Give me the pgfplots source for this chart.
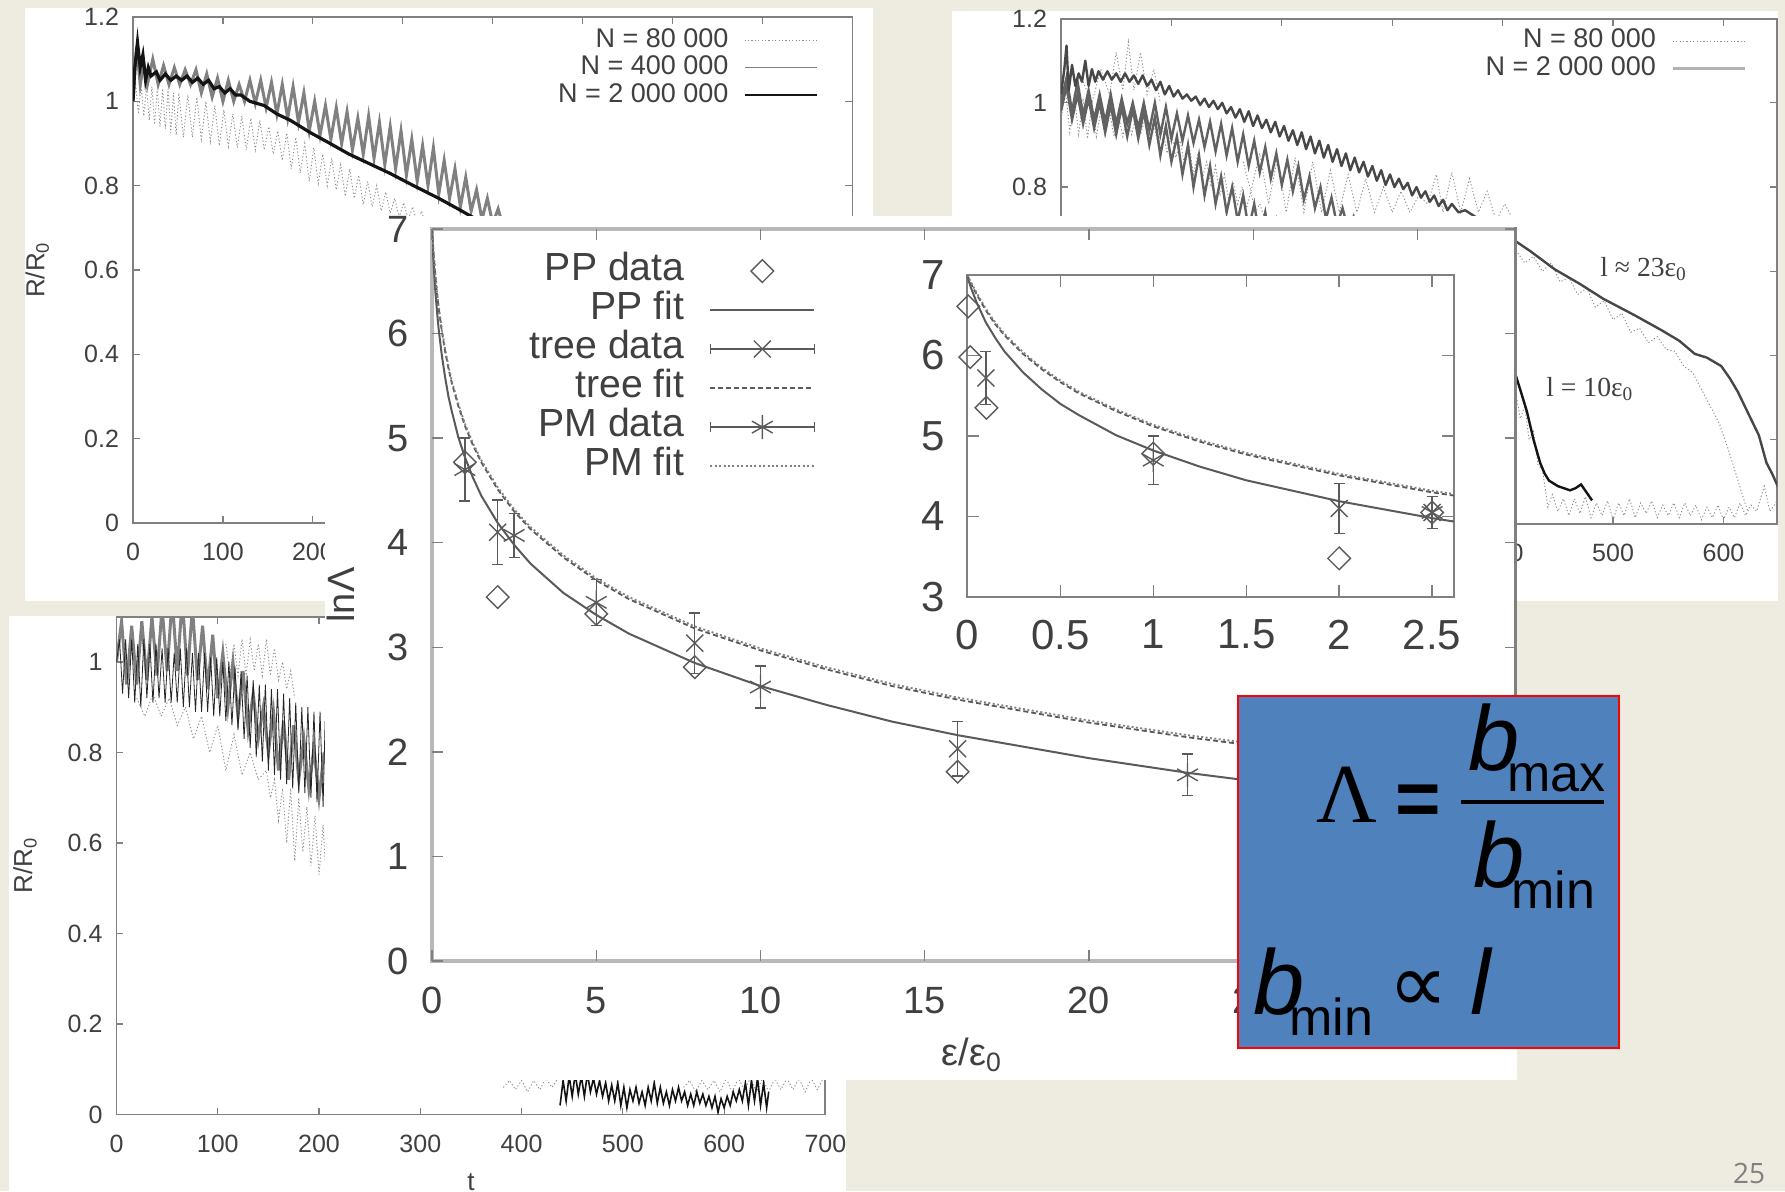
\documentclass[border=0pt]{standalone}
\usepackage{pgfplots}
\usepackage{pgfplotstable}
\usepackage{fontspec}
\setmainfont{Liberation Sans}
\newfontfamily\serifl{Liberation Serif}
\newfontfamily\dejav{DejaVu Sans}
\newfontfamily\pagef{Open Sans}
\pgfplotsset{compat=1.18}
\definecolor{bgc}{HTML}{EEECE1}
\definecolor{boxblue}{HTML}{4F81BD}
\definecolor{axg}{HTML}{808080}
\definecolor{txg}{HTML}{404040}
\definecolor{dotg}{HTML}{8C8C8C}
\definecolor{midg}{HTML}{808080}
\definecolor{fitg}{HTML}{5A5A5A}

\pgfplotstableread{
x pp tree pm
0 6.98 7.00 7.00
0.02 6.84 6.89 6.91
0.05 6.66 6.76 6.78
0.1 6.41 6.56 6.58
0.15 6.22 6.39 6.41
0.2 6.05 6.25 6.27
0.3 5.79 6.02 6.04
0.4 5.58 5.83 5.85
0.5 5.40 5.67 5.69
0.6 5.26 5.53 5.55
0.8 5.01 5.31 5.33
1 4.82 5.12 5.14
1.25 4.62 4.93 4.95
1.5 4.45 4.77 4.79
2 4.19 4.51 4.53
2.5 3.98 4.30 4.32
3 3.80 4.13 4.15
4 3.52 3.86 3.88
5 3.31 3.64 3.66
6 3.13 3.46 3.48
8 2.85 3.18 3.20
10 2.63 2.97 2.99
12 2.45 2.79 2.81
14 2.29 2.63 2.65
16 2.16 2.50 2.52
18 2.05 2.39 2.41
20 1.94 2.28 2.30
23 1.80 2.14 2.16
26 1.68 2.02 2.04
30 1.54 1.88 1.90
33 1.44 1.78 1.80
}\fitdata

\pgfplotsset{
  panel/.style={
    scale only axis, tick align=inside, major tick length=3.5pt,
    axis line style={axg,line width=0.9pt}, tick style={axg,line width=0.6pt},
    tick label style={txg,font=\fontsize{12.5}{14}\selectfont,/pgf/number format/assume math mode=true},
    xticklabel style={yshift=-6.5pt}, yticklabel style={xshift=-3.5pt},
    label style={txg,font=\fontsize{13}{15}\selectfont},
    xmin=0, ymin=0,
  },
  big/.style={
    scale only axis, tick align=inside, major tick length=5.5pt,
    axis line style={draw=none}, tick style={axg,line width=0.7pt},
    tick label style={txg,font=\fontsize{19}{21}\selectfont,/pgf/number format/assume math mode=true},
    label style={txg,font=\fontsize{19}{21}\selectfont},
  },
  lineimg/.style={legend image code/.code={\draw[##1] (0pt,0pt)--(#1,0pt);}},
  markimg/.style={legend image code/.code={\draw[##1] plot coordinates {(26pt,0pt)};}},
  errimg/.style={legend image code/.code={
     \draw[fitg,line width=0.8pt] (0pt,0pt)--(52pt,0pt) (0pt,-2.5pt)--(0pt,2.5pt) (52pt,-2.5pt)--(52pt,2.5pt);
     \draw[##1] plot coordinates {(26pt,0pt)};}},
  smalleg/.style={legend plot pos=right, legend cell align=right,
     legend style={draw=none,fill=none,font=\fontsize{13.5}{15}\selectfont,text=txg,inner sep=0pt,
       row sep=1.4pt,nodes={inner sep=0pt,text height=9.5pt,text depth=2.85pt},
       /tikz/every odd column/.style={column sep=7.5pt}}},
  dots/.style={dotg,line width=0.45pt,dash pattern=on 0.6pt off 1.1pt},
  err/.style={error bars/y dir=both,error bars/y explicit,
     error bars/error bar style={fitg,line width=0.7pt},
     error bars/error mark options={rotate=90,mark size=2.75pt,fitg,line width=0.7pt}},
}

\begin{document}
\begin{tikzpicture}
\useasboundingbox (0,0) rectangle (892.5pt,-595.5pt);
\clip (0,0) rectangle (892.5pt,-595.5pt);
\begin{scope}[x=0.5pt,y=-0.5pt]
\fill[bgc] (0,0) rectangle (1785,1191);
\fill[white] (25,8) rectangle (873,601);
\end{scope}

% ---------- top left ----------
\begin{axis}[panel, at={(133*0.5pt,-523*0.5pt)}, anchor=south west,
  width=359.75pt, height=253pt, xmax=800, ymax=1.2,
  xtick={0,100,...,800}, ytick={0,0.2,0.4,0.6,0.8,1,1.2},
  xticklabels={0,100,200,300,400,500,600,700,800},
  yticklabels={0,0.2,0.4,0.6,0.8,1,1.2},
  ylabel={R/R\textsubscript{0}},
  ylabel style={at={(axis description cs:-0.133,0.5)},anchor=center},
  smalleg, legend style={at={(0.952,0.979)},anchor=north east}]
\addplot[dots,lineimg=36pt] coordinates {(0,1.00)(3,1.04)(6,.97)(9,1.04)(12,.965)(15,1.035)(18,.955)(21,1.035)(24,.945)(27,1.03)(30,.94)(33,1.03)(36,.935)(39,1.03)(42,.925)(45,1.02)(48,.92)(51,1.02)(56,.915)(61,1.015)(66,.915)(71,1.01)(76,.91)(81,1.0)(86,.905)(91,.99)(96,.895)(101,.98)(106,.893)(111,.97)(116,.89)(121,.965)(126,.885)(131,.96)(136,.885)(141,.955)(146,.885)(151,.94)(156,.875)(161,.93)(166,.86)(171,.925)(176,.84)(181,.915)(186,.83)(191,.90)(196,.81)(201,.89)(206,.805)(211,.875)(216,.80)(221,.865)(226,.79)(231,.85)(236,.775)(241,.84)(246,.77)(251,.825)(256,.755)(261,.81)(266,.75)(271,.80)(276,.74)(281,.785)(286,.735)(291,.77)(296,.725)(301,.76)(306,.72)(311,.75)(316,.71)(321,.74)(326,.70)};
\addlegendentry{N = 80 000}
\addplot[midg,line width=1.5pt,lineimg=36pt,legend image post style={line width=0.6pt}] coordinates {(0,1.0)(4,1.13)(8,1.04)(12,1.09)(16,1.04)(22,1.10)(28,1.04)(34,1.085)(40,1.04)(46,1.08)(52,1.04)(58,1.075)(64,1.04)(70,1.075)(76,1.02)(82,1.065)(88,1.01)(94,1.055)(100,1.0)(106,1.05)(112,1.0)(118,1.04)(124,1.0)(130,1.05)(136,.995)(142,1.05)(148,.985)(154,1.045)(160,.97)(166,1.04)(172,.96)(178,1.035)(184,.95)(190,1.02)(196,.93)(202,1.0)(208,.92)(214,.99)(220,.91)(226,.985)(232,.9)(238,.975)(244,.885)(250,.96)(256,.875)(262,.965)(268,.865)(274,.95)(280,.85)(286,.94)(292,.84)(298,.93)(304,.825)(310,.91)(316,.81)(322,.895)(328,.80)(334,.89)(340,.78)(346,.86)(352,.77)(358,.84)(364,.75)(370,.82)(376,.74)(382,.79)(388,.72)(394,.77)(400,.71)(406,.745)(412,.70)};
\addlegendentry{N = 400 000}
\addplot[black!92,line width=1.6pt,lineimg=36pt,legend image post style={line width=1pt}] coordinates {(0,1.0)(2,1.08)(5,1.14)(8,1.08)(11,1.11)(14,1.05)(17,1.08)(20,1.06)(26,1.07)(30,1.05)(36,1.065)(42,1.05)(48,1.06)(54,1.05)(60,1.06)(66,1.045)(72,1.055)(78,1.04)(84,1.05)(90,1.03)(96,1.035)(102,1.02)(108,1.03)(114,1.015)(120,1.015)(130,1.0)(146,.99)(160,.97)(175,.955)(197,.926)(215,.905)(240,.875)(260,.855)(285,.83)(312,.80)(340,.77)(363,.743)(382,.72)(395,.70)};
\addlegendentry{N = 2 000 000}
\end{axis}

\begin{scope}[x=0.5pt,y=-0.5pt]
\fill[white] (952,11) rectangle (1778,601);
\end{scope}

% ---------- top right ----------
\begin{axis}[panel, at={(1061*0.5pt,-524*0.5pt)}, anchor=south west,
  width=358pt, height=252.7pt, xmax=648.5, ymax=1.2,
  xtick={0,100,...,600}, ytick={0,0.2,0.4,0.6,0.8,1,1.2},
  xticklabels={0,100,200,300,400,500,600},
  yticklabels={0,0.2,0.4,0.6,0.8,1,1.2},
  smalleg, legend style={at={(0.958,0.981)},anchor=north east}]
\addplot[dots,lineimg=36pt] coordinates {(0,.96)(4,1.03)(8,.93)(12,1.02)(16,.925)(20,1.01)(24,.915)(28,1.0)(32,.92)(36,.98)(40,.92)(44,.98)(48,.92)(52,.97)(56,.92)(60,.97)(64,.925)(68,.97)(72,.925)(76,.96)(80,.91)(84,.95)(88,.90)(92,.94)(96,.88)(100,.93)(104,.87)(108,.91)(112,.85)(116,.90)(120,.83)(124,.88)(128,.82)(132,.86)(136,.80)(140,.85)(144,.78)(148,.83)(152,.77)(156,.81)(160,.76)(164,.80)(168,.75)(172,.79)(176,.74)(180,.76)(184,.73)};
\addlegendentry{N = 80 000}
\addplot[dots,forget plot] coordinates {(20,1.05)(28,1.0)(36,1.08)(44,1.02)(50,1.12)(56,1.03)(61,1.145)(66,1.03)(72,1.12)(78,1.02)(84,1.08)(90,1.0)};
\addplot[dots,forget plot] coordinates {(165,.86)(172,.79)(180,.88)(188,.76)(196,.87)(204,.74)(212,.87)(220,.74)(228,.86)(236,.74)(244,.84)(252,.74)(260,.83)(268,.74)(276,.82)(284,.74)(292,.80)(300,.74)(308,.79)(316,.74)(324,.78)(332,.76)(340,.83)(346,.74)(354,.835)(362,.74)(370,.82)(378,.74)(386,.79)(394,.72)(402,.76)(410,.72)};
\addplot[dots,forget plot] coordinates {(412,.65)(420,.62)(428,.635)(436,.60)(444,.62)(452,.575)(460,.585)(468,.545)(476,.56)(484,.515)(492,.53)(500,.485)(508,.50)(516,.455)(524,.465)(532,.43)(540,.445)(548,.415)(556,.41)(564,.375)(572,.36)(580,.32)(588,.28)(596,.24)(604,.18)(610,.13)(617,.07)(622,.03)};
\addplot[dots,forget plot] coordinates {(412,.31)(416,.25)(420,.28)(424,.2)(428,.22)(432,.14)(436,.13)(441,.04)(445,.07)(450,.03)(455,.06)(460,.02)(465,.06)(470,.025)(475,.065)(480,.015)(485,.05)(490,.02)(495,.055)(500,.01)(505,.05)(510,.02)(515,.06)(520,.015)(525,.05)(530,.025)(535,.055)(540,.015)(545,.045)(550,.02)(555,.05)(560,.015)(565,.05)(570,.02)(575,.045)(580,.01)(585,.04)(590,.015)(595,.045)(600,.01)(605,.04)(610,.015)(615,.05)(620,.02)(625,.045)(630,.03)(637,.09)(642,.03)(650,.06)};
\addplot[black!62,line width=1.2pt,forget plot] coordinates {(0,.98)(5,1.04)(10,.96)(15,1.02)(20,.95)(25,1.01)(30,.94)(35,1.0)(40,.93)(45,.995)(50,.925)(55,.99)(60,.92)(65,.985)(70,.915)(75,.98)(80,.90)(85,.965)(90,.875)(95,.945)(100,.86)(105,.92)(110,.83)(115,.90)(120,.80)(125,.875)(130,.78)(135,.85)(140,.76)(145,.825)(150,.74)(155,.80)(160,.72)(165,.78)(170,.70)(175,.76)(180,.68)(185,.74)(190,.66)(195,.72)(200,.65)};
\addplot[black!62,line width=1.2pt,forget plot] coordinates {(0,1.0)(5,1.06)(10,.98)(15,1.05)(20,.97)(25,1.03)(30,.96)(35,1.02)(40,.955)(45,1.02)(50,.95)(55,1.01)(60,.95)(65,1.0)(70,.94)(75,1.0)(80,.935)(85,1.0)(90,.925)(95,.99)(100,.915)(105,.975)(110,.91)(115,.97)(120,.905)(125,.96)(130,.895)(135,.955)(140,.885)(145,.95)(150,.875)(155,.94)(160,.86)(165,.925)(170,.85)(175,.91)(180,.835)(185,.895)(190,.82)(195,.88)(200,.805)(205,.865)(210,.79)(215,.85)(220,.77)(225,.825)(230,.75)(235,.80)(240,.725)(245,.775)(250,.71)(255,.75)(260,.70)(265,.73)(270,.68)};
\addplot[black!92,line width=1.2pt,forget plot] coordinates {(412,.352)(417,.31)(422,.267)(428,.20)(434,.145)(438,.12)(442,.103)(450,.09)(461,.08)(466,.085)(471,.094)(476,.075)(481,.056)};
\addplot[black!72,line width=1.2pt,line join=round,lineimg=36pt,legend image post style={black!30,line width=1.8pt}] coordinates {(0,1.02)(3,1.08)(5,1.136)(7,1.03)(10,1.09)(13,1.04)(16,1.07)(19,1.05)(22,1.10)(25,1.04)(28,1.08)(31,1.05)(34,1.075)(38,1.055)(42,1.075)(46,1.055)(50,1.07)(54,1.05)(58,1.07)(62,1.05)(66,1.065)(70,1.045)(74,1.065)(78,1.04)(82,1.055)(86,1.03)(90,1.05)(94,1.02)(98,1.04)(102,1.015)(106,1.03)(110,1.01)(114,1.02)(118,1.005)(122,1.015)(126,.995)(130,1.01)(134,.99)(138,1.005)(142,.985)(146,1.0)(150,.975)(154,.99)(158,.965)(162,.985)(166,.955)(170,.98)(174,.945)(178,.97)(182,.94)(186,.96)(190,.93)(194,.955)(198,.92)(202,.945)(206,.91)(210,.935)(214,.90)(218,.93)(222,.89)(226,.92)(230,.88)(234,.91)(238,.87)(242,.90)(246,.86)(250,.89)(254,.85)(258,.88)(262,.84)(266,.87)(270,.835)(274,.86)(278,.825)(282,.85)(286,.815)(290,.84)(294,.805)(298,.83)(302,.80)(306,.82)(310,.795)(314,.81)(318,.78)(322,.80)(326,.775)(330,.79)(334,.765)(338,.78)(342,.755)(346,.77)(350,.745)(354,.76)(360,.74)(366,.745)(378,.725)(412,.671)(425,.648)(447,.605)(470,.57)(491,.535)(520,.495)(544,.46)(560,.435)(574,.404)(585,.395)(598,.375)(606,.345)(613,.314)(622,.265)(632,.211)(639,.145)(644,.12)(650,.085)};
\addlegendentry{N = 2 000 000}
\end{axis}

\begin{scope}[x=0.5pt,y=-0.5pt]
\fill[white] (9,616) rectangle (846,1191);
\end{scope}

% ---------- bottom left ----------
\begin{axis}[panel, at={(116.5*0.5pt,-1114.5*0.5pt)}, anchor=south west,
  width=354.45pt, height=248.9pt, xmax=700, ymax=1.1,
  xtick={0,100,...,700}, ytick={0,0.2,0.4,0.6,0.8,1},
  xticklabels={0,100,200,300,400,500,600,700},
  yticklabels={0,0.2,0.4,0.6,0.8,1},
  xlabel={t}, ylabel={R/R\textsubscript{0}},
  xlabel style={at={(axis description cs:0.5,-0.136)},anchor=center},
  ylabel style={at={(axis description cs:-0.129,0.5)},anchor=center}]
\addplot[dots] coordinates {(20,.92)(28,.88)(36,.93)(44,.88)(52,.92)(60,.86)(68,.90)(76,.83)(84,.88)(92,.80)(100,.86)(108,.76)(116,.84)(124,.75)(132,.80)(140,.74)(148,.76)(152,.70)(156,.74)(160,.65)(164,.72)(168,.60)(172,.72)(176,.56)(180,.70)(184,.58)(188,.68)(192,.55)(196,.66)(200,.53)(204,.64)(206,.56)};
\addplot[dots] coordinates {(108,1.04)(112,.97)(116,1.04)(120,.97)(124,1.05)(128,.97)(132,1.05)(136,.98)(140,1.04)(144,.97)(148,1.05)(152,.97)(156,1.03)(160,.96)(164,1.0)(168,.94)(172,.98)(176,.92)};
\addplot[dots] coordinates {(382,.06)(388,.075)(394,.055)(400,.075)(406,.05)(412,.075)(418,.055)(424,.08)(430,.06)(436,.08)};
\addplot[dots] coordinates {(560,.06)(566,.075)(572,.05)(578,.075)(584,.055)(590,.075)(596,.05)(602,.08)(608,.05)(614,.08)(620,.055)(626,.08)(632,.05)(638,.08)(644,.05)(650,.08)(656,.055)(662,.08)(668,.055)(674,.08)(680,.05)(686,.08)(692,.055)(698,.08)};
\addplot[midg,line width=1.5pt] coordinates {(0,1.0)(5,1.09)(10,.95)(15,1.08)(20,.95)(25,1.09)(30,.96)(35,1.10)(40,.97)(45,1.12)(50,.98)(55,1.14)(60,.98)(65,1.14)(70,.97)(75,1.12)(80,.96)(85,1.08)(90,.94)(95,1.06)(100,.92)(105,1.02)(110,.90)(115,1.0)(120,.88)(125,.98)(130,.85)(135,.93)(140,.83)(145,.90)(150,.80)(155,.89)(160,.76)(165,.87)(170,.74)(175,.86)(180,.74)(185,.83)(190,.72)(195,.81)(200,.70)(205,.80)};
\addplot[black!85,line width=0.4pt] coordinates {(0,1.0)(3,1.05)(6,.93)(9,1.05)(12,.92)(15,1.05)(18,.91)(21,1.04)(24,.90)(27,1.05)(30,.92)(33,1.04)(36,.91)(39,1.04)(42,.92)(45,1.03)(48,.91)(51,1.03)(54,.91)(57,1.02)(60,.91)(63,1.03)(66,.90)(69,1.03)(72,.90)(75,1.02)(78,.89)(81,1.02)(84,.89)(87,1.02)(90,.89)(93,1.01)(96,.88)(99,1.01)(102,.88)(105,1.0)(108,.87)(111,1.0)(114,.86)(117,.99)(120,.85)(123,.98)(126,.83)(129,.97)(132,.81)(135,.96)(138,.79)(141,.95)(144,.78)(147,.95)(150,.76)(153,.94)(156,.75)(159,.94)(162,.74)(165,.93)(168,.73)(171,.92)(174,.72)(177,.91)(180,.71)(183,.90)(186,.71)(189,.90)(192,.70)(195,.89)(198,.69)(201,.89)(204,.68)(206,.87)};
\addplot[black!92,line width=0.8pt] coordinates {(438,.02)(441,.075)(444,.03)(447,.085)(450,.04)(453,.09)(456,.045)(459,.085)(462,.04)(465,.09)(468,.05)(471,.08)(474,.045)(477,.075)(480,.04)(483,.07)(486,.03)(489,.065)(492,.03)(495,.07)(498,.02)(501,.06)(504,.015)(507,.055)(510,.03)(513,.06)(516,.025)(519,.05)(522,.02)(525,.06)(528,.03)(531,.07)(534,.025)(537,.06)(540,.025)(543,.05)(546,.02)(549,.055)(552,.03)(555,.06)(558,.03)(561,.05)(564,.02)(567,.045)(570,.02)(573,.05)(576,.025)(579,.045)(582,.02)(585,.04)(588,.015)(591,.04)(594,.005)(597,.035)(600,.015)(603,.04)(606,.02)(609,.05)(612,.03)(615,.055)(618,.03)(621,.07)(624,.02)(627,.075)(630,.03)(633,.08)(636,.02)(639,.07)(642,.015)(644,.05)};
\end{axis}

\begin{scope}[x=0.5pt,y=-0.5pt]
\fill[white] (325,216) rectangle (1517,1080);
\draw[black!28,line width=2pt] (1515,229)--(432,229)--(432,961)--(1515,961);
\draw[axg,line width=1.2pt] (1515.5,227)--(1515.5,963);
\end{scope}

% ---------- main ----------
\begin{axis}[big, at={(432*0.5pt,-961*0.5pt)}, anchor=south west,
  width=542pt, height=366pt, xmin=0, xmax=33, ymin=0, ymax=7,
  xtick={0,5,...,30}, ytick={0,1,...,7},
  xticklabel style={yshift=-9.5pt}, yticklabel style={xshift=-8pt},
  xlabel={ε/ε\textsubscript{0}}, ylabel={lnΛ},
  xlabel style={at={(axis description cs:0.498,-0.128)},anchor=center},
  ylabel style={at={(axis description cs:-0.084,0.5)},anchor=center},
  clip mode=individual,
  legend plot pos=right, legend cell align=right,
  legend style={at={(0.354,0.967)},anchor=north east,draw=none,fill=none,
    font=\fontsize{19.6}{22}\selectfont,text=txg,inner sep=0pt,row sep=2pt,
    nodes={inner sep=0pt,text height=13.5pt,text depth=4pt},
    /tikz/every odd column/.style={column sep=12.5pt}}]
\addplot[only marks,mark=square,mark size=4pt,mark options={rotate=45,fitg,line width=0.7pt},markimg] coordinates {(1,4.77)(2,3.48)(5,3.32)(8,2.81)(16,1.81)};
\addlegendentry{PP data}
\addplot[fitg,line width=1pt,lineimg=52pt] table[x=x,y=pp]{\fitdata};
\addlegendentry{PP fit}
\addplot[only marks,mark=x,mark size=6pt,mark options={fitg,line width=0.7pt},err,errimg] coordinates {(2,4.1)+-(0,.31)(8,3.04)+-(0,.29)(16,2.03)+-(0,.26)};
\addlegendentry{tree data}
\addplot[fitg,line width=0.9pt,dash pattern=on 2.5pt off 1.5pt,lineimg=52pt] table[x=x,y=tree]{\fitdata};
\addlegendentry{tree fit}
\addplot[only marks,mark=asterisk,mark size=6pt,mark options={fitg,line width=0.7pt},err,errimg] coordinates {(1,4.7)+-(0,.3)(2.5,4.07)+-(0,.21)(5,3.43)+-(0,.22)(10,2.62)+-(0,.2)(23,1.78)+-(0,.2)};
\addlegendentry{PM data}
\addplot[black!50,line width=0.9pt,dash pattern=on 1pt off 1.2pt,lineimg=52pt] table[x=x,y=pm]{\fitdata};
\addlegendentry{PM fit}
\end{axis}

% ---------- inset ----------
\begin{axis}[big, at={(967.3*0.5pt,-597*0.5pt)}, anchor=south west,
  width=243.3pt, height=161pt, xmin=0, xmax=2.617, ymin=3, ymax=7,
  axis line style={draw=axg,line width=1pt}, major tick length=6pt,
  tick label style={font=\fontsize{21}{23}\selectfont},
  xtick={0,0.5,1,1.5,2,2.5}, ytick={3,4,5,6,7},
  xticklabels={0,0.5,1,1.5,2,2.5}, yticklabels={3,4,5,6,7},
  xticklabel style={yshift=-8pt}, yticklabel style={xshift=-7.5pt},
  clip mode=individual]
\addplot[only marks,mark=square,mark size=4pt,mark options={rotate=45,fitg,line width=0.7pt}] coordinates {(0.005,6.61)(0.016,5.98)(0.103,5.35)(1,4.78)(2,3.48)(2.5,4.05)};
\addplot[fitg,line width=1pt] table[x=x,y=pp]{\fitdata};
\addplot[only marks,mark=x,mark size=6pt,mark options={fitg,line width=0.7pt},err] coordinates {(0.1,5.72)+-(0,.33)(2,4.1)+-(0,.31)(2.5,4.05)+-(0,.2)};
\addplot[fitg,line width=0.9pt,dash pattern=on 2.5pt off 1.5pt] table[x=x,y=tree]{\fitdata};
\addplot[only marks,mark=asterisk,mark size=6pt,mark options={fitg,line width=0.7pt},err] coordinates {(1,4.7)+-(0,.3)(2.5,4.05)+-(0,.2)};
\addplot[black!50,line width=0.9pt,dash pattern=on 1pt off 1.2pt] table[x=x,y=pm]{\fitdata};
\end{axis}

% ---------- annotations and equation box ----------
\begin{scope}[x=0.5pt,y=-0.5pt]
\fill[bgc] (846,1080) rectangle (1785,1191);
\node[anchor=base west,inner sep=0pt,text=txg,font={\serifl\fontsize{13.8}{15}\selectfont}] at (1600,276) {l ≈ 23ε\textsubscript{0}};
\node[anchor=base west,inner sep=0pt,text=txg,font={\serifl\fontsize{13.8}{15}\selectfont}] at (1546,396) {l = 10ε\textsubscript{0}};
\filldraw[fill=boxblue,draw=red,line width=1.1pt] (1238,696) rectangle (1619,1048);
\node[anchor=base,inner sep=0pt,font={\serifl\fontsize{42}{42}\selectfont}] at (1347,822) {Λ};
\node[anchor=base,inner sep=0pt,font={\bfseries\fontsize{39}{40}\selectfont}] at (1418,825) {=};
\fill[black] (1461,799.5) rectangle (1604,804);
\node[anchor=base west,inner sep=0pt,font={\itshape\fontsize{46}{46}\selectfont}] at (1468,770) {b};
\node[anchor=base west,inner sep=0pt,font={\fontsize{26}{26}\selectfont}] at (1507,791) {max};
\node[anchor=base west,inner sep=0pt,font={\itshape\fontsize{46}{46}\selectfont}] at (1473,887) {b};
\node[anchor=base west,inner sep=0pt,font={\fontsize{26}{26}\selectfont}] at (1511,908) {min};
\node[anchor=base west,inner sep=0pt,font={\itshape\fontsize{46}{46}\selectfont}] at (1253,1014) {b};
\node[anchor=base west,inner sep=0pt,font={\fontsize{26}{26}\selectfont}] at (1289,1035) {min};
\node[anchor=base west,inner sep=0pt,font={\dejav\fontsize{42}{42}\selectfont}] at (1388,1012) {∝};
\node[anchor=base west,inner sep=0pt,font={\itshape\fontsize{46}{46}\selectfont}] at (1470,1014) {l};
\node[anchor=base,inner sep=0pt,text=black!50,font={\pagef\fontsize{14}{14}\selectfont}] at (1749,1183) {25};
\end{scope}
\end{tikzpicture}
\end{document}
